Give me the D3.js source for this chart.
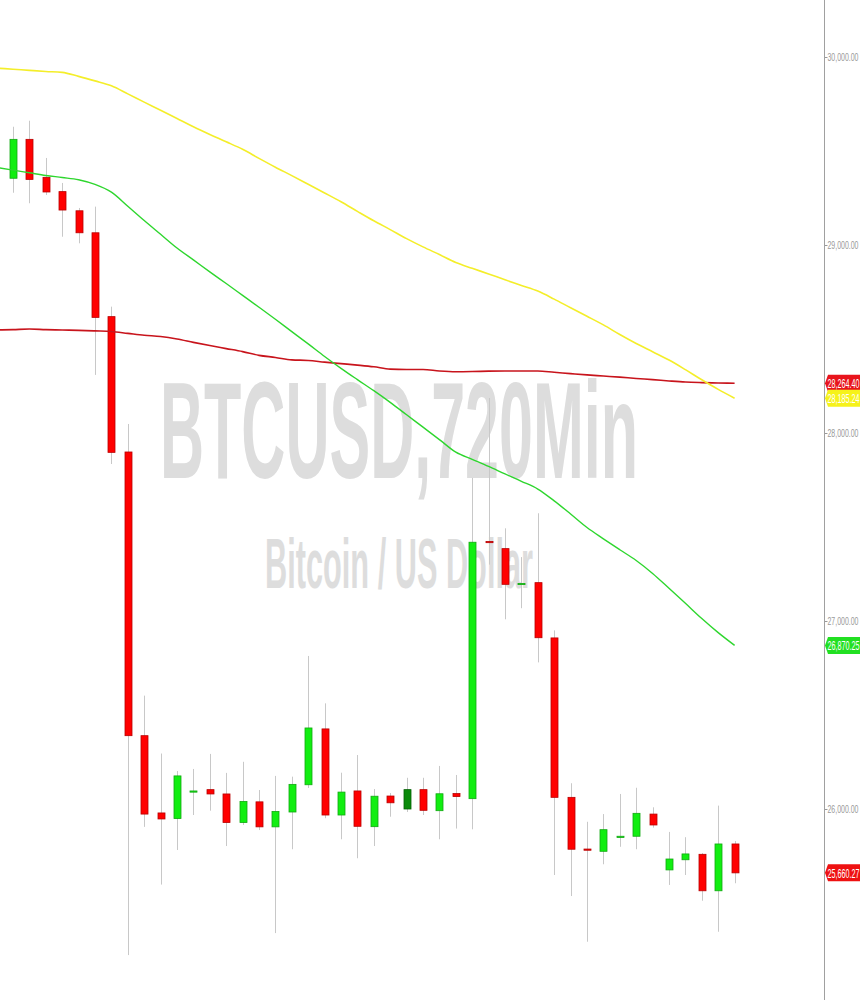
<!DOCTYPE html>
<html>
<head>
<meta charset="utf-8">
<script src="https://cdn.jsdelivr.net/npm/d3@7"></script>
<style>
  html, body { margin: 0; padding: 0; background: #ffffff; }
  svg { display: block; }
</style>
</head>
<body>
<svg id="chart" width="860" height="1000"></svg>
<script>
// ---------- DATA ----------
const opens  = [29355, 29562, 29360, 29284, 29182, 29065, 28619, 27899, 26390, 25979, 25949, 26093, 26103, 26080, 25928, 26038, 25905, 25984, 26129, 26426, 25968, 26096, 25906, 26069, 26000, 26103, 25991, 26082, 26055, 27423, 27385, 27197, 27204, 26910, 26062, 25787, 25775, 25854, 25855, 25973, 25676, 25730, 25759, 25565, 25814];
const highs  = [29629, 29661, 29463, 29330, 29197, 29204, 28672, 28048, 26603, 26295, 26202, 26213, 26293, 26192, 26251, 26101, 26176, 26172, 26814, 26562, 26193, 26287, 26106, 26085, 26166, 26166, 26229, 26181, 27761, 28186, 27493, 27340, 27573, 26950, 26137, 25932, 25973, 26080, 26113, 26009, 25878, 25850, 25766, 26018, 25830];
const lows   = [29278, 29222, 29266, 29044, 29009, 28309, 27835, 25223, 25905, 25598, 25782, 25968, 25991, 25803, 25915, 25888, 25340, 25786, 26112, 25951, 25839, 25738, 25803, 25959, 25984, 25968, 25839, 25896, 25892, 27300, 27009, 27068, 26780, 25649, 25537, 25294, 25706, 25799, 25786, 25901, 25596, 25649, 25512, 25347, 25605];
const closes = [29562, 29349, 29282, 29186, 29065, 28615, 27897, 26390, 25973, 25947, 26176, 26096, 26080, 25928, 26040, 25905, 25987, 26131, 26431, 25968, 26090, 25908, 26068, 26033, 26103, 25993, 26081, 26066, 27419, 27418, 27195, 27200, 26911, 26062, 25786, 25784, 25890, 25855, 25977, 25915, 25734, 25761, 25565, 25814, 25660.27];

// moving averages, first value belongs to the bar before the first visible candle
const maYellow = [29941, 29935, 29929, 29923, 29918, 29897, 29873, 29847, 29804, 29760, 29717, 29673, 29629, 29588, 29549, 29509, 29461, 29414, 29369, 29323, 29277, 29230, 29179, 29129, 29082, 29034, 28990, 28949, 28907, 28876, 28846, 28815, 28785, 28755, 28712, 28666, 28621, 28575, 28524, 28476, 28432, 28388, 28337, 28283, 28232, 28185.24];
const maGreen  = [29413, 29398, 29384, 29370, 29359, 29347, 29322, 29281, 29206, 29130, 29057, 28984, 28921, 28857, 28795, 28732, 28669, 28605, 28539, 28474, 28407, 28344, 28284, 28225, 28163, 28097, 28031, 27965, 27898, 27860, 27822, 27782, 27743, 27702, 27639, 27569, 27497, 27437, 27379, 27322, 27253, 27174, 27094, 27013, 26938, 26870.25];
const maRed    = [28548, 28550, 28553, 28550, 28548, 28546, 28543, 28540, 28530, 28520, 28513, 28500, 28482, 28465, 28449, 28433, 28413, 28402, 28389, 28386, 28377, 28369, 28361, 28352, 28340, 28338, 28338, 28330, 28326, 28327, 28329, 28330, 28330, 28330, 28323, 28316, 28309, 28303, 28297, 28290, 28284, 28277, 28271, 28268, 28266, 28264.40];

const yTicks = [30000, 29000, 28000, 27000, 26000];
const titleText = "BTCUSD,720Min";
const subtitleText = "Bitcoin / US Dollar";

// ---------- DRAW ----------
const svg = d3.select("#chart");
const W = 860, H = 1000, axisX = 824;

const x = d3.scaleLinear().domain([0, 44]).range([13, 734.6]);
const y = d3.scaleLinear().domain([30000, 26000]).range([57, 809]);

const fmt = d3.format(",.2f");

// watermark
svg.append("text")
  .attr("x", 160).attr("y", 478)
  .attr("textLength", 478).attr("lengthAdjust", "spacingAndGlyphs")
  .attr("font-family", "Liberation Sans, Arial, sans-serif")
  .attr("font-weight", "bold").attr("font-size", 137)
  .attr("fill", "#dddddd")
  .text(titleText);
svg.append("text")
  .attr("x", 265).attr("y", 588)
  .attr("textLength", 268).attr("lengthAdjust", "spacingAndGlyphs")
  .attr("font-family", "Liberation Sans, Arial, sans-serif")
  .attr("font-weight", "bold").attr("font-size", 70)
  .attr("fill", "#dddddd")
  .text(subtitleText);

const plot = svg.append("g");
plot.append("clipPath").attr("id", "clip")
  .append("rect").attr("x", 0).attr("y", 0).attr("width", axisX).attr("height", H);
const gp = plot.append("g").attr("clip-path", "url(#clip)");

// candles
const candles = opens.map((o, i) => ({ i, o, h: highs[i], l: lows[i], c: closes[i] }));
const darkCandle = 24;
const bw = 7;

gp.selectAll("line.wick").data(candles).enter().append("line")
  .attr("class", "wick")
  .attr("x1", d => Math.round(x(d.i)) + 0.5).attr("x2", d => Math.round(x(d.i)) + 0.5)
  .attr("y1", d => y(d.h)).attr("y2", d => y(d.l))
  .attr("stroke", "#c8c8c8").attr("stroke-width", 1);

gp.selectAll("rect.body").data(candles).enter().append("rect")
  .attr("class", "body")
  .attr("x", d => Math.round(x(d.i)) + 0.5 - bw / 2)
  .attr("width", bw)
  .attr("y", d => y(Math.max(d.o, d.c)))
  .attr("height", d => Math.max(1.2, Math.abs(y(d.o) - y(d.c))))
  .attr("fill", d => d.i === darkCandle ? "#0a8a0a" : (d.c >= d.o ? "#11ee11" : "#ff0000"))
  .attr("stroke", d => d.i === darkCandle ? "#046004" : (d.c >= d.o ? "#11a811" : "#b80000"))
  .attr("stroke-width", 0.8);

// moving averages
const line = d3.line()
  .x((d, k) => x(k - 1))
  .y(d => y(d))
  .curve(d3.curveMonotoneX);

gp.append("path").datum(maRed).attr("d", line)
  .attr("fill", "none").attr("stroke", "#c8141c").attr("stroke-width", 1.6);
gp.append("path").datum(maYellow).attr("d", line)
  .attr("fill", "none").attr("stroke", "#f4ee2a").attr("stroke-width", 1.6);
gp.append("path").datum(maGreen).attr("d", line)
  .attr("fill", "none").attr("stroke", "#2ed62e").attr("stroke-width", 1.4);

// right axis
const axis = d3.axisRight(y).tickValues(yTicks).tickSize(3).tickFormat(fmt);
const ga = svg.append("g").attr("transform", `translate(${axisX + 0.5},0)`).call(axis);
ga.select(".domain").remove();
ga.selectAll(".tick line").attr("stroke", "#999");
ga.selectAll(".tick text")
  .attr("x", 3)
  .attr("fill", "#999999")
  .attr("font-family", "Liberation Sans, Arial, sans-serif")
  .attr("font-size", 11.5)
  .attr("textLength", 31).attr("lengthAdjust", "spacingAndGlyphs");
svg.append("line")
  .attr("x1", axisX + 0.5).attr("x2", axisX + 0.5)
  .attr("y1", 0).attr("y2", H)
  .attr("stroke", "#a0a0a0").attr("stroke-width", 1);

// price tags
const tags = [
  { v: maRed[maRed.length - 1], fill: "#e8141c" },
  { v: maYellow[maYellow.length - 1], fill: "#f6f21a" },
  { v: maGreen[maGreen.length - 1], fill: "#22e022" },
  { v: closes[closes.length - 1], fill: "#ee1111" }
];
const tg = svg.append("g");
tags.forEach(t => {
  const cy = y(t.v);
  const hh = 8.5;
  tg.append("path")
    .attr("d", `M${axisX + 1},${cy} L${axisX + 4},${cy - hh} L${W},${cy - hh} L${W},${cy + hh} L${axisX + 4},${cy + hh} Z`)
    .attr("fill", t.fill);
  tg.append("text")
    .attr("x", axisX + 3.5).attr("y", cy).attr("dy", "0.36em")
    .attr("fill", "#ffffff")
    .attr("font-family", "Liberation Sans, Arial, sans-serif")
    .attr("font-size", 13.5)
    .attr("textLength", 32).attr("lengthAdjust", "spacingAndGlyphs")
    .text(fmt(t.v));
});
</script>
</body>
</html>
